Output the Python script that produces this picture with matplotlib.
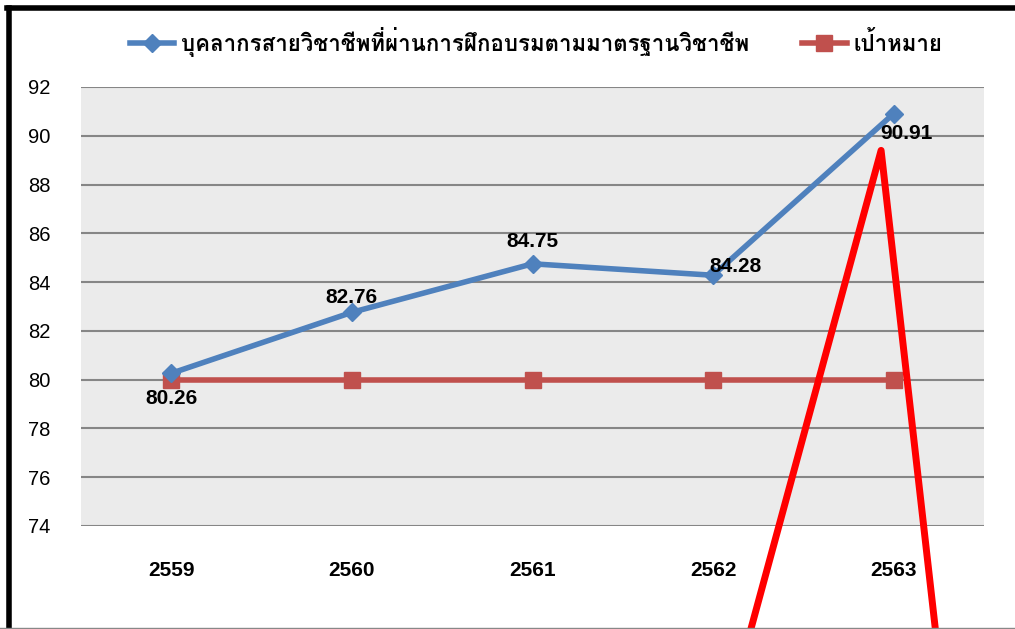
import matplotlib
matplotlib.use("Agg")
import matplotlib.pyplot as plt
from matplotlib import font_manager
from matplotlib.ft2font import FT2Font
from matplotlib.lines import Line2D

years = ["2559", "2560", "2561", "2562", "2563"]
trained = [80.26, 82.76, 84.75, 84.28, 90.91]
target = [80, 80, 80, 80, 80]
series_names = ["บุคลากรสายวิชาชีพที่ผ่านการฝึกอบรมตามมาตรฐานวิชาชีพ", "เป้าหมาย"]
yticks = [74, 76, 78, 80, 82, 84, 86, 88, 90, 92]

# red hand-drawn marker line in data coords (x index, value)
red_x = [3.21, 3.93, 4.23]
red_y = [69.8, 89.4, 69.8]


def thai_font():
    for f in font_manager.fontManager.ttflist:
        try:
            if 0x0E1A in FT2Font(f.fname).get_charmap():
                return f.name
        except Exception:
            pass
    return "DejaVu Sans"


thai = thai_font()
plt.rcParams['font.family'] = ['Liberation Sans', thai, 'DejaVu Sans']

fig = plt.figure(figsize=(10.15, 6.29), dpi=100)
ax = fig.add_axes([0.0798, 0.1638, 0.8897, 0.6979])
ax.set_facecolor('#EBEBEB')

x = list(range(len(years)))
ax.plot(x, trained, color='#4F81BD', lw=4, marker='D', markersize=9, zorder=4)
ax.plot(x, target, color='#C0504D', lw=4, marker='s', markersize=11, zorder=3)

offsets = [(0, -18), (0, 11), (0, 16), (16, 6), (9, -14)]
for xi, v, off in zip(x, trained, offsets):
    ax.annotate(f"{v:.2f}", (xi, v), xytext=off, textcoords='offset points',
                ha='center', va='center', fontsize=15, fontweight='bold', zorder=6)

ax.plot(red_x, red_y, color='#FF0000', lw=5, clip_on=False, zorder=5)

ax.set_xlim(-0.5, 4.5)
ax.set_ylim(74, 92)
ax.set_yticks(yticks)
ax.set_xticks(x)
ax.set_xticklabels(years, fontsize=15, fontweight='bold')
ax.tick_params(axis='y', length=0, pad=22, labelsize=14.5)
ax.tick_params(axis='x', length=0, pad=25)
for lab in ax.get_yticklabels():
    lab.set_horizontalalignment('right')
ax.grid(axis='y', color='#868686', lw=1.5)
ax.set_axisbelow(True)
for s in ax.spines.values():
    s.set_visible(False)

handles = [Line2D([], [], color='#4F81BD', lw=4, marker='D', markersize=9),
           Line2D([], [], color='#C0504D', lw=4, marker='s', markersize=11)]
fig.legend(handles, series_names, loc='center', bbox_to_anchor=(0.528, 0.933),
           ncol=2, frameon=False, prop={'size': 16, 'weight': 'bold'},
           handlelength=2.0, columnspacing=2.4, handletextpad=0.3)

# outer frame
fig.add_artist(Line2D([8.5 / 1015, 8.5 / 1015], [0, 1 - 7.5 / 629], color='black', lw=4,
                      transform=fig.transFigure))
fig.add_artist(Line2D([6.5 / 1015, 1], [1 - 7.5 / 629, 1 - 7.5 / 629], color='black', lw=4,
                      transform=fig.transFigure))
fig.add_artist(Line2D([0, 1], [1.5 / 629, 1.5 / 629], color='#888888', lw=1,
                      transform=fig.transFigure))

fig.savefig("out.png", dpi=100)
